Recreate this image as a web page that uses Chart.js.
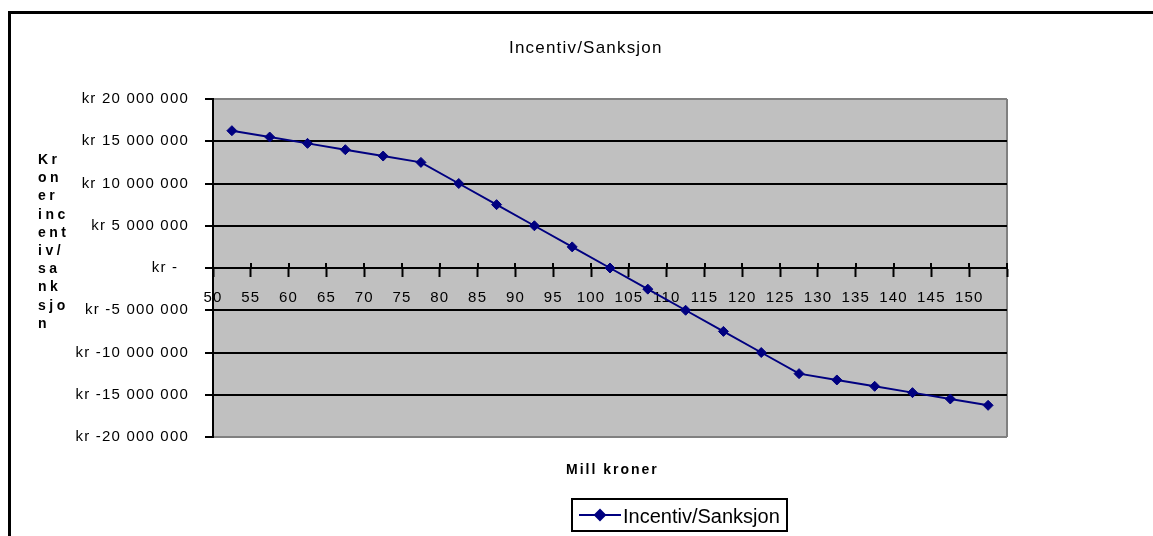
<!DOCTYPE html>
<html>
<head>
<meta charset="utf-8">
<script src="https://cdn.jsdelivr.net/npm/chart.js@4/dist/chart.umd.min.js"></script>
<style>
  html, body { margin: 0; padding: 0; background: #fff; overflow: hidden; }
  canvas { display: block; }
</style>
</head>
<body>
<canvas id="chart" width="1153" height="536"></canvas>
<script>
// Category labels along the horizontal axis (Mill kroner)
const xTickLabels = ['50', '55', '60', '65', '70', '75', '80', '85', '90', '95', '100',
                     '105', '110', '115', '120', '125', '130', '135', '140', '145', '150'];

// Incentive / sanction amount in kroner, one value per category
const seriesLabel = 'Incentiv/Sanksjon';
const seriesValues = [16250000, 15500000, 14750000, 14000000, 13250000, 12500000,
                      10000000, 7500000, 5000000, 2500000, 0,
                      -2500000, -5000000, -7500000, -10000000, -12500000,
                      -13250000, -14000000, -14750000, -15500000, -16250000];

// Value axis ticks and their printed labels
const yTickValues = [-20000000, -15000000, -10000000, -5000000, 0,
                     5000000, 10000000, 15000000, 20000000];
const yTickLabels = ['kr -20 000 000', 'kr -15 000 000', 'kr -10 000 000', 'kr -5 000 000', 'kr -  ',
                     'kr 5 000 000', 'kr 10 000 000', 'kr 15 000 000', 'kr 20 000 000'];

const chartTitle = 'Incentiv/Sanksjon';
const xAxisTitle = 'Mill kroner';
const yAxisTitleLines = ['Kr', 'on', 'er', 'inc', 'ent', 'iv/', 'sa', 'nk', 'sjo', 'n'];

const FONT = "'Liberation Sans', Arial, Helvetica, sans-serif";
const NAVY = '#000080';
const TICK_SPACING = '1.2px';

Chart.defaults.font.family = FONT;
Chart.defaults.color = '#000';

// Frame, plot background, titles and the boxed legend
const decorations = {
  id: 'decorations',
  beforeLayout(chart) {
    chart.ctx.letterSpacing = TICK_SPACING;
  },
  beforeDraw(chart) {
    const { ctx, chartArea: a } = chart;
    ctx.save();
    ctx.fillStyle = '#000';
    ctx.fillRect(8, 11, chart.width - 8, 3);
    ctx.fillRect(8, 11, 3, chart.height - 11);
    ctx.fillStyle = '#c0c0c0';
    ctx.fillRect(a.left, a.top, a.right - a.left, a.bottom - a.top);
    ctx.strokeStyle = '#808080';
    ctx.lineWidth = 2;
    ctx.beginPath();
    ctx.moveTo(a.right, a.top);
    ctx.lineTo(a.right, a.bottom);
    ctx.stroke();
    ctx.restore();
    ctx.letterSpacing = TICK_SPACING;
  },
  beforeDatasetsDraw(chart) {
    // category ticks cross the zero line
    const { ctx } = chart;
    const xs = chart.scales.x;
    const y0 = chart.scales.y.getPixelForValue(0);
    ctx.save();
    ctx.strokeStyle = '#000';
    ctx.lineWidth = 2;
    ctx.beginPath();
    xs.ticks.forEach(t => {
      const px = Math.round(xs.getPixelForValue(t.value));
      ctx.moveTo(px, y0 - 5);
      ctx.lineTo(px, y0);
    });
    ctx.stroke();
    ctx.restore();
  },
  afterDraw(chart) {
    const { ctx, chartArea: a } = chart;
    const ds = chart.data.datasets[0];
    ctx.save();
    ctx.fillStyle = '#000';
    ctx.textAlign = 'left';
    ctx.textBaseline = 'alphabetic';

    // chart title
    ctx.font = `17px ${FONT}`;
    ctx.letterSpacing = '1.2px';
    ctx.fillText(chartTitle, 509, a.top - 46.3);

    // horizontal axis title
    ctx.font = `bold 14px ${FONT}`;
    ctx.letterSpacing = '2px';
    ctx.fillText(xAxisTitle, 566, a.bottom + 37.3);

    // vertical axis title, wrapped into short lines
    ctx.letterSpacing = '3.5px';
    yAxisTitleLines.forEach((line, i) => {
      ctx.fillText(line, 38, 164 + i * 18.2);
    });

    // legend box
    ctx.letterSpacing = '0px';
    const bx = 572, by = 499, bw = 215, bh = 32;
    ctx.strokeStyle = '#000';
    ctx.lineWidth = 2;
    ctx.strokeRect(bx, by, bw, bh);
    const ly = by + bh / 2;
    ctx.strokeStyle = ds.borderColor;
    ctx.lineWidth = 2;
    ctx.beginPath();
    ctx.moveTo(bx + 7, ly);
    ctx.lineTo(bx + 49, ly);
    ctx.stroke();
    ctx.fillStyle = ds.backgroundColor;
    Chart.helpers.drawPoint(ctx, { pointStyle: 'rectRot', radius: 5, rotation: 0, borderWidth: 1 }, bx + 28, ly);
    ctx.fillStyle = '#000';
    ctx.font = `20px ${FONT}`;
    ctx.fillText(ds.label, bx + 51, by + 23.7);
    ctx.restore();
  }
};

new Chart(document.getElementById('chart'), {
  type: 'line',
  data: {
    datasets: [{
      label: seriesLabel,
      data: seriesValues.map((v, i) => ({ x: i + 0.5, y: v })),
      borderColor: NAVY,
      backgroundColor: NAVY,
      borderWidth: 2,
      tension: 0,
      pointStyle: 'rectRot',
      pointRadius: 5,
      pointBorderWidth: 1,
      pointBackgroundColor: NAVY,
      pointBorderColor: NAVY,
      clip: false
    }]
  },
  options: {
    responsive: false,
    animation: false,
    devicePixelRatio: 1,
    layout: { padding: { left: 0, top: 99, right: 146, bottom: 99 } },
    plugins: {
      legend: { display: false },
      title: { display: false },
      tooltip: { enabled: false }
    },
    scales: {
      x: {
        type: 'linear',
        position: { y: 0 },
        min: 0,
        max: xTickLabels.length,
        afterBuildTicks(scale) {
          scale.ticks = xTickLabels.concat(['']).map((_, i) => ({ value: i }));
        },
        ticks: {
          autoSkip: false,
          maxRotation: 0,
          minRotation: 0,
          padding: 13,
          color: '#000',
          font: { size: 15 },
          callback: (v, i) => (xTickLabels[i] !== undefined ? xTickLabels[i] : '')
        },
        grid: {
          drawOnChartArea: false,
          drawTicks: true,
          tickLength: 8,
          tickColor: '#000',
          tickWidth: 2
        },
        border: { display: true, color: '#000', width: 2 }
      },
      y: {
        type: 'linear',
        min: yTickValues[0],
        max: yTickValues[yTickValues.length - 1],
        afterBuildTicks(scale) {
          scale.ticks = yTickValues.map(v => ({ value: v }));
        },
        afterFit(scale) {
          scale.width = 213;
        },
        ticks: {
          padding: 16,
          color: '#000',
          font: { size: 15 },
          callback: (v, i) => yTickLabels[i]
        },
        grid: {
          color: c => (c.tick && Math.abs(c.tick.value) === yTickValues[yTickValues.length - 1]) ? '#808080' : '#000',
          lineWidth: 2,
          tickLength: 8,
          tickColor: '#000',
          tickWidth: 2
        },
        border: { color: '#000', width: 2 }
      }
    }
  },
  plugins: [decorations]
});
</script>
</body>
</html>
